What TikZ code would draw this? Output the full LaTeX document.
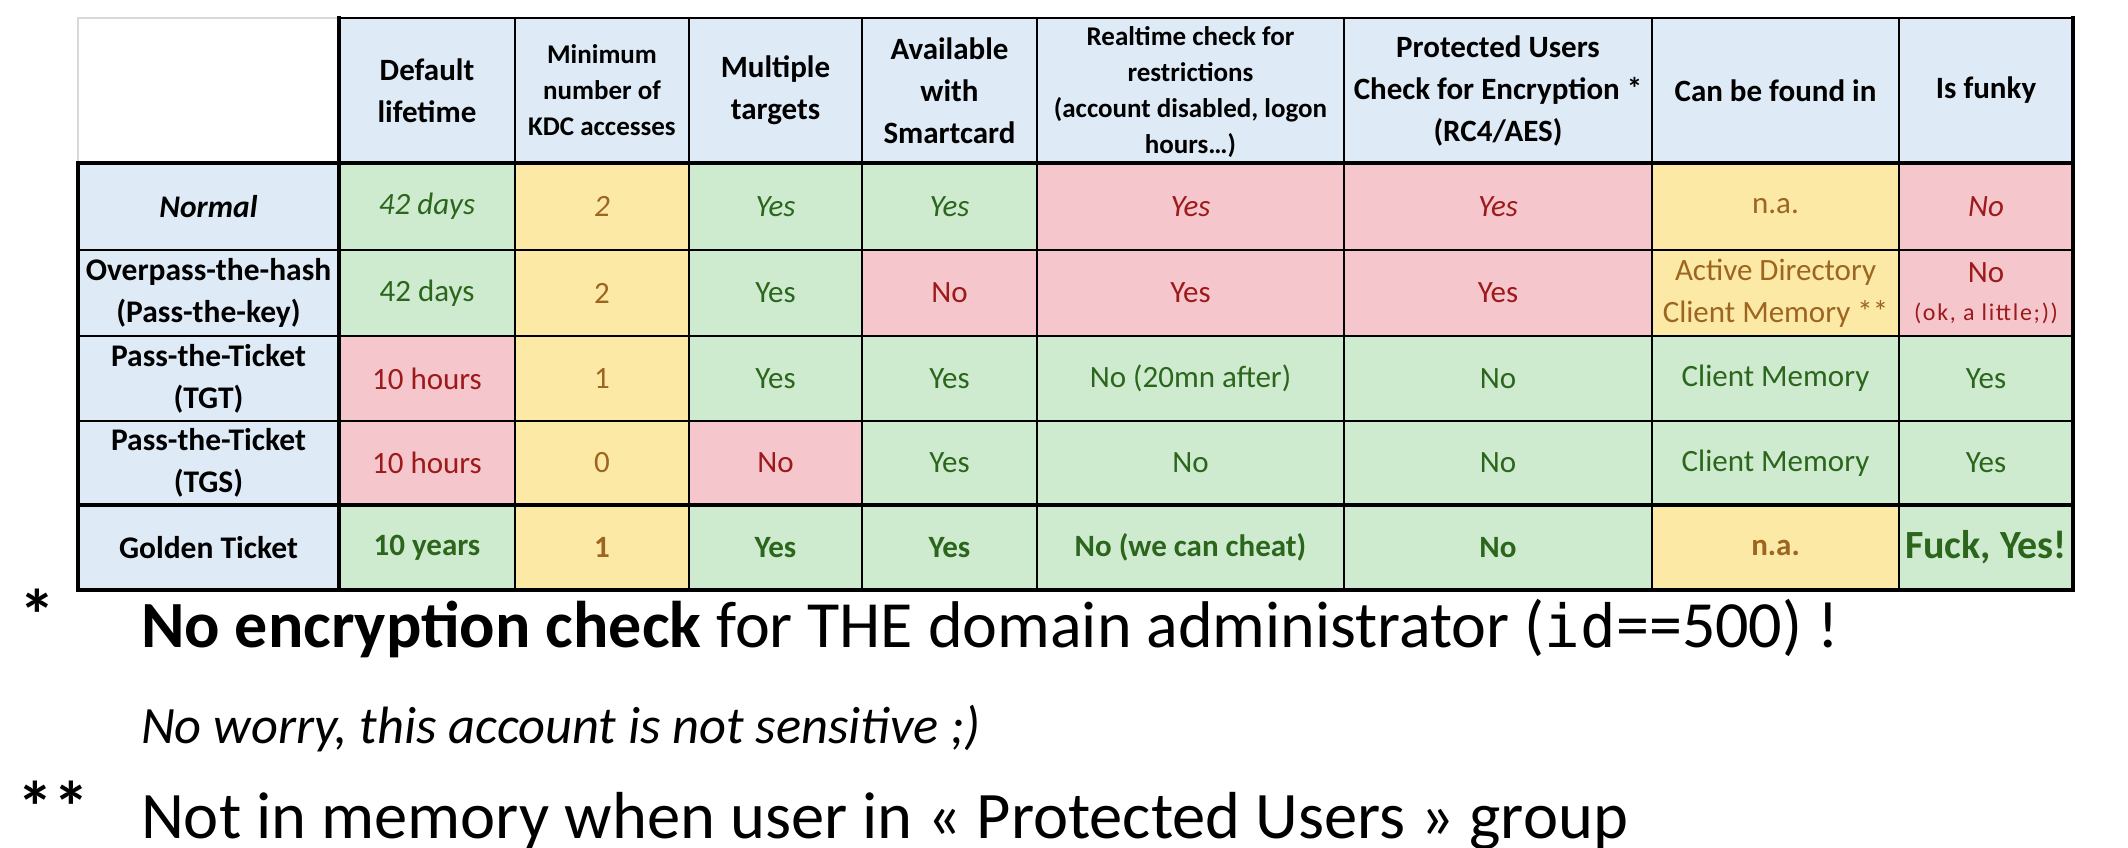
\documentclass[tikz,border=0pt]{standalone}
\usepackage{fontspec}
\setmainfont{Carlito}
\newfontfamily\codefont[Scale=0.9]{DejaVu Sans Mono}
\definecolor{hdrbg}{HTML}{DEEAF6}
\definecolor{gbg}{HTML}{CEEBD0}
\definecolor{gfg}{HTML}{2B661C}
\definecolor{rbg}{HTML}{F6C6CD}
\definecolor{rfg}{HTML}{9C1A1A}
\definecolor{ybg}{HTML}{FCE9A6}
\definecolor{yfg}{HTML}{9C6520}
\definecolor{gridgray}{HTML}{D9D9D9}

\begin{document}
\begin{tikzpicture}[x=1bp, y=-1bp,
    box/.style={inner sep=0pt, outer sep=0pt, align=center, font=\fontsize{31bp}{42bp}\selectfont},
    hdcell/.style={box, fill=hdrbg, font=\fontsize{31bp}{42bp}\selectfont\bfseries},
    subhead/.style={box, fill=hdrbg, font=\fontsize{27bp}{36bp}\selectfont\bfseries},
    rowname/.style={box, fill=hdrbg, font=\fontsize{31.5bp}{42bp}\selectfont\bfseries},
    good/.style={box, fill=gbg, text=gfg},
    bad/.style={box, fill=rbg, text=rfg},
    meh/.style={box, fill=ybg, text=yfg},
    col0/.style={minimum width=261bp}, col1/.style={minimum width=176bp},
    col2/.style={minimum width=174bp}, col3/.style={minimum width=173bp},
    col4/.style={minimum width=175bp}, col5/.style={minimum width=307bp},
    col6/.style={minimum width=308bp}, col7/.style={minimum width=247bp},
    col8/.style={minimum width=174bp},
    row0/.style={minimum height=145bp}, row1/.style={minimum height=87bp},
    row2/.style={minimum height=86bp}, row3/.style={minimum height=85bp},
    row4/.style={minimum height=84bp}, row5/.style={minimum height=85bp},
    border/.style={line width=4bp, line cap=rect},
    rule/.style={line width=2.5bp, line cap=rect},
    note/.style={anchor=base west, inner sep=0pt, outer sep=0pt, font=\fontsize{66bp}{78bp}\selectfont},
    stars/.style={inner sep=0pt, outer sep=0pt, font=\fontsize{72bp}{78bp}\selectfont\bfseries}]

    \useasboundingbox (0,0) rectangle (2128,848);

    \node [box, fill=white, col0, row0] (h0) at (208.5,90.5) {};
    \node [hdcell, col1, row0] (h1) at (427,90.5) {Default\\lifetime};
    \node [subhead, col2, row0] (h2) at (602,90.5) {Minimum\\number of\\KDC accesses};
    \node [hdcell, col3, row0] (h3) at (775.5,90.5) {Multiple\\targets};
    \node [hdcell, col4, row0] (h4) at (949.5,90.5) {Available\\with\\Smartcard};
    \node [subhead, col5, row0] (h5) at (1190.5,92) {Realtime check for\\restrictions\\(account disabled, logon\\hours…)};
    \node [hdcell, col6, row0] (h6) at (1498,90.5) {Protected Users\\Check for Encryption *\\(RC4/AES)};
    \node [hdcell, col7, row0] (h7) at (1775.5,90.5) {Can be found in};
    \node [hdcell, col8, row0] (h8) at (1986,90.5) {Is funky};

    \node [rowname, col0, row1] (r1c0) at (208.5,206.5) {\textit{Normal}};
    \node [good, col1, row1] (r1c1) at (427,206.5) {\textit{42 days}};
    \node [meh, col2, row1] (r1c2) at (602,206.5) {\textit{2}};
    \node [good, col3, row1] (r1c3) at (775.5,206.5) {\textit{Yes}};
    \node [good, col4, row1] (r1c4) at (949.5,206.5) {\textit{Yes}};
    \node [bad, col5, row1] (r1c5) at (1190.5,206.5) {\textit{Yes}};
    \node [bad, col6, row1] (r1c6) at (1498,206.5) {\textit{Yes}};
    \node [meh, col7, row1] (r1c7) at (1775.5,206.5) {n.a.};
    \node [bad, col8, row1] (r1c8) at (1986,206.5) {\textit{No}};

    \node [rowname, col0, row2] (r2c0) at (208.5,293) {Overpass-the-hash\\(Pass-the-key)};
    \node [good, col1, row2] (r2c1) at (427,293) {42 days};
    \node [meh, col2, row2] (r2c2) at (602,293) {2};
    \node [good, col3, row2] (r2c3) at (775.5,293) {Yes};
    \node [bad, col4, row2] (r2c4) at (949.5,293) {No};
    \node [bad, col5, row2] (r2c5) at (1190.5,293) {Yes};
    \node [bad, col6, row2] (r2c6) at (1498,293) {Yes};
    \node [meh, col7, row2] (r2c7) at (1775.5,293) {Active Directory\\Client Memory **};
    \node [bad, col8, row2] (r2c8) at (1986,293) {No\\[-4bp]{\fontsize{24bp}{30bp}\selectfont\addfontfeature{LetterSpace=7}(ok, a little;))}};

    \node [rowname, col0, row3] (r3c0) at (208.5,378.5) {Pass-the-Ticket\\(TGT)};
    \node [bad, col1, row3] (r3c1) at (427,378.5) {10 hours};
    \node [meh, col2, row3] (r3c2) at (602,378.5) {1};
    \node [good, col3, row3] (r3c3) at (775.5,378.5) {Yes};
    \node [good, col4, row3] (r3c4) at (949.5,378.5) {Yes};
    \node [good, col5, row3] (r3c5) at (1190.5,378.5) {No (20mn after)};
    \node [good, col6, row3] (r3c6) at (1498,378.5) {No};
    \node [good, col7, row3] (r3c7) at (1775.5,378.5) {Client Memory};
    \node [good, col8, row3] (r3c8) at (1986,378.5) {Yes};

    \node [rowname, col0, row4] (r4c0) at (208.5,463) {Pass-the-Ticket\\(TGS)};
    \node [bad, col1, row4] (r4c1) at (427,463) {10 hours};
    \node [meh, col2, row4] (r4c2) at (602,463) {0};
    \node [bad, col3, row4] (r4c3) at (775.5,463) {No};
    \node [good, col4, row4] (r4c4) at (949.5,463) {Yes};
    \node [good, col5, row4] (r4c5) at (1190.5,463) {No};
    \node [good, col6, row4] (r4c6) at (1498,463) {No};
    \node [good, col7, row4] (r4c7) at (1775.5,463) {Client Memory};
    \node [good, col8, row4] (r4c8) at (1986,463) {Yes};

    \node [rowname, col0, row5] (r5c0) at (208.5,547.5) {Golden Ticket};
    \node [good, col1, row5] (r5c1) at (427,547.5) {\textbf{10 years}};
    \node [meh, col2, row5] (r5c2) at (602,547.5) {\textbf{1}};
    \node [good, col3, row5] (r5c3) at (775.5,547.5) {\textbf{Yes}};
    \node [good, col4, row5] (r5c4) at (949.5,547.5) {\textbf{Yes}};
    \node [good, col5, row5] (r5c5) at (1190.5,547.5) {\textbf{No (we can cheat)}};
    \node [good, col6, row5] (r5c6) at (1498,547.5) {\textbf{No}};
    \node [meh, col7, row5] (r5c7) at (1775.5,547.5) {\textbf{n.a.}};
    \node [good, col8, row5] (r5c8) at (1986,547.5) {\fontsize{40bp}{42bp}\selectfont\bfseries Fuck, Yes!};

    \draw[rule, draw=gridgray] (h0.south west) -- (h0.north west) -- (h0.north east);
    \draw[rule] (h1.north west) -- (h8.north east);
    \foreach \c in {2,...,8}
        \draw[rule] (h\c.north west) -- (r5c\c.south west);
    \foreach \r in {2,3,4}
        \draw[rule] (r\r c0.north west) -- (r\r c8.north east);
    \draw[border] (h1.north west) -- (r5c1.south west);
    \draw[border] (r1c0.north west) -- (r5c0.south west);
    \draw[border] (h8.north east) -- (r5c8.south east);
    \draw[border] (h0.south west) -- (h8.south east);
    \draw[border] (r5c0.north west) -- (r5c8.north east);
    \draw[border] (r5c0.south west) -- (r5c8.south east);

    \node [stars] (star1) at (37.5,615) {*};
    \node [note] (fn1) at (141,647) {\textbf{No encryption check} for THE domain administrator ({\codefont id}==500) !};
    \node [note, font=\fontsize{52.5bp}{62bp}\selectfont\itshape] (fn1b) at (141,743) {No worry, this account is not sensitive ;)};
    \node [stars] (star2) at (53.5,806.5) {**};
    \node [note, font=\fontsize{66.5bp}{78bp}\selectfont] (fn2) at (141,838) {Not in memory when user in « Protected Users » group};

\end{tikzpicture}
\end{document}
